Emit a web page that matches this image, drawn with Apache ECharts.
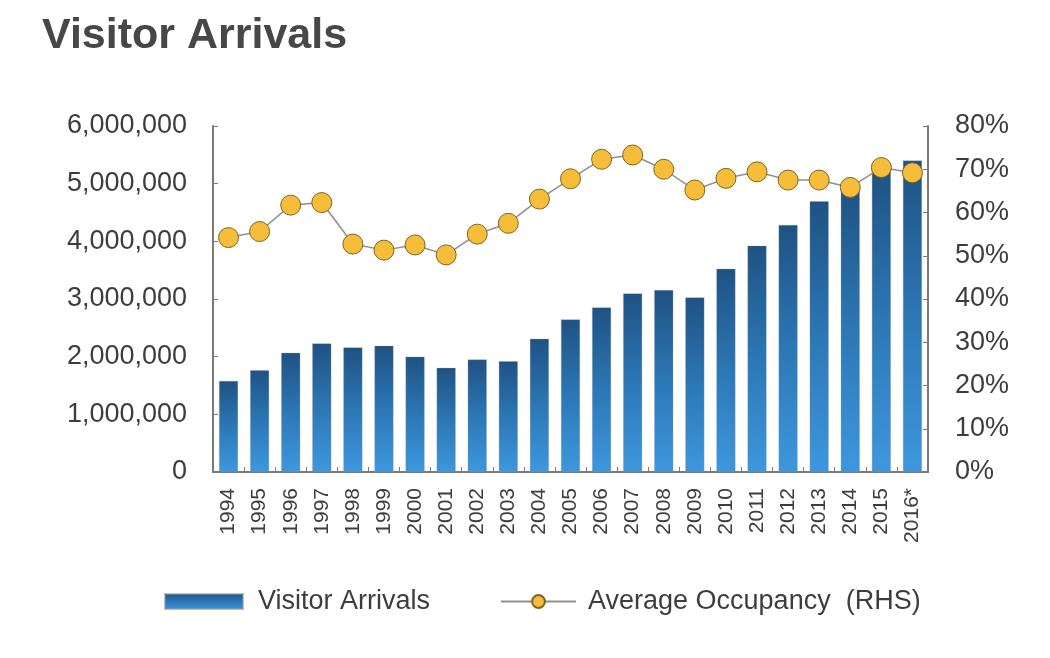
<!DOCTYPE html>
<html>
<head>
<meta charset="utf-8">
<script src="https://cdn.jsdelivr.net/npm/echarts@6/dist/echarts.min.js"></script>
<style>html,body{margin:0;padding:0;background:#fff}#c{width:1050px;height:658px}</style>
</head>
<body>
<div id="c"></div>
<script>
const categories = ['1994','1995','1996','1997','1998','1999','2000','2001','2002','2003','2004','2005','2006','2007','2008','2009','2010','2011','2012','2013','2014','2015','2016*'];
const arrivals = [1580000,1766000,2066000,2230000,2160000,2190000,2000000,1806000,1950000,1920000,2310000,2646000,2854000,3097000,3155000,3028000,3524000,3924000,4283000,4694000,4950000,5260000,5400000];
const occupancy = [54.2,55.6,61.7,62.3,52.7,51.3,52.5,50.2,55.0,57.5,63.1,67.8,72.3,73.3,70.0,65.2,67.9,69.4,67.5,67.5,65.8,70.4,69.2];
const leftTicks = [0,1000000,2000000,3000000,4000000,5000000,6000000];
const rightTicks = [0,10,20,30,40,50,60,70,80];

const FONT = '"Liberation Sans", Arial, Helvetica, sans-serif';
const TXT = '#3d3d3d';
const AXIS = '#7a7a7a';

const chart = echarts.init(document.getElementById('c'), null, {renderer:'canvas'});
chart.setOption({
  animation:false,
  backgroundColor:'#fff',
  title:{text:'Visitor Arrivals', left:37, top:10,
    textStyle:{fontFamily:FONT, fontSize:43, fontWeight:'bold', color:'#474747'}},
  legend:[
    {data:[{name:'Visitor Arrivals', icon:'rect'}], left:159, top:583, itemWidth:78, itemHeight:15,
     textStyle:{fontFamily:FONT, fontSize:27, color:TXT, padding:[0,0,0,10]}},
    {data:['Average Occupancy  (RHS)'], left:495, top:583, itemWidth:75, itemHeight:16,
     textStyle:{fontFamily:FONT, fontSize:27, color:TXT, padding:[0,0,0,7]}}
  ],
  grid:{left:213, right:122, top:126, bottom:186, containLabel:false},
  xAxis:{type:'category', data:categories, boundaryGap:true,
    axisLine:{lineStyle:{color:AXIS, width:2}},
    axisTick:{show:true, inside:true, length:5, lineStyle:{color:AXIS}},
    axisLabel:{rotate:90, interval:0, margin:16, fontFamily:FONT, fontSize:21, color:TXT}},
  yAxis:[
    {type:'value', min:leftTicks[0], max:leftTicks[leftTicks.length-1], interval:1000000,
     axisLine:{show:true, lineStyle:{color:AXIS, width:2}},
     axisTick:{show:true, inside:true, length:5, lineStyle:{color:AXIS}},
     splitLine:{show:false},
     axisLabel:{margin:26, fontFamily:FONT, fontSize:27, color:TXT,
       formatter:v=>v.toLocaleString('en-US')}},
    {type:'value', min:rightTicks[0], max:rightTicks[rightTicks.length-1], interval:10, position:'right',
     axisLine:{show:true, lineStyle:{color:AXIS, width:2}},
     axisTick:{show:true, inside:true, length:5, lineStyle:{color:AXIS}},
     splitLine:{show:false},
     axisLabel:{margin:27, fontFamily:FONT, fontSize:27, color:TXT, formatter:'{value}%'}}
  ],
  series:[
    {name:'Visitor Arrivals', type:'bar', data:arrivals, barWidth:19, yAxisIndex:0,
     itemStyle:{color:new echarts.graphic.LinearGradient(0,0,0,1,[
       {offset:0,color:'#1f5283'},{offset:0.5,color:'#2c77b5'},{offset:1,color:'#3e97de'}]),
       borderColor:'rgba(140,150,160,0.6)', borderWidth:0.5}},
    {name:'Average Occupancy  (RHS)', type:'line', data:occupancy, yAxisIndex:1,
     symbol:'circle', symbolSize:20,
     lineStyle:{color:'#8e8e8e', width:1.5},
     itemStyle:{color:'#f5bd3a', borderColor:'#7d6526', borderWidth:1}}
  ]
});
</script>
</body>
</html>
